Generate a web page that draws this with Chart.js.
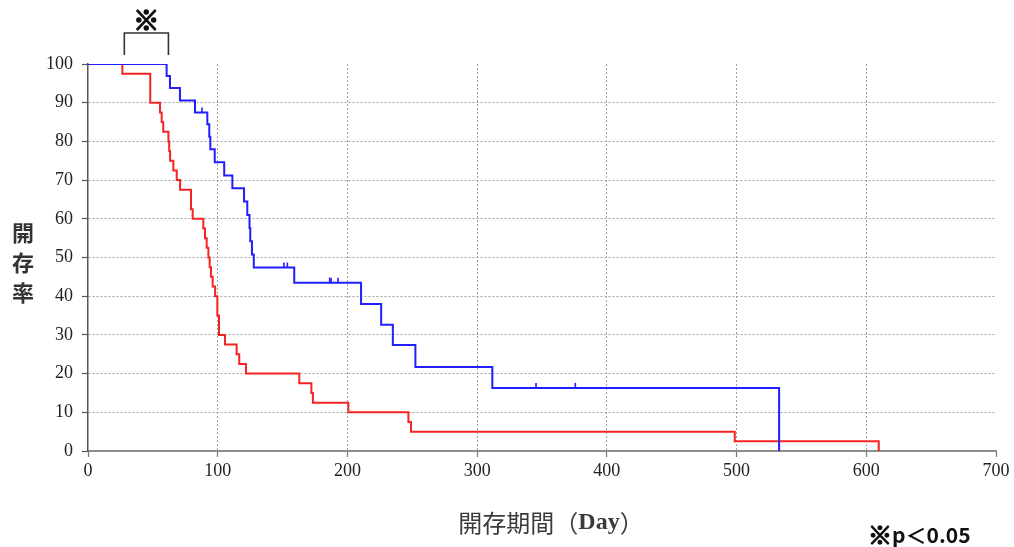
<!DOCTYPE html>
<html>
<head>
<meta charset="utf-8">
<script src="https://cdn.jsdelivr.net/npm/chart.js@4.4.0/dist/chart.umd.min.js"></script>
<style>
  html, body { margin: 0; padding: 0; background: #ffffff; }
  #wrap { position: relative; width: 1014px; height: 547px; }
</style>
</head>
<body>
<div id="wrap"><canvas id="chart"></canvas></div>
<script>
// Patency curve, group A (blue): day of each event and the rate after it
const blueDays = [0, 60.6, 63.2, 70.9, 82.5, 92.0, 93.5, 94.3, 97.7, 105.0, 111.3, 120.3, 122.8, 124.5, 125.1, 126.4, 127.8, 159.0, 210.5, 226.0, 235.0, 252.4, 311.7, 532.8];
const blueRate = [100, 96.9, 93.8, 90.6, 87.5, 84.4, 81.2, 78.0, 74.6, 71.2, 67.9, 64.5, 61.0, 57.6, 54.2, 50.8, 47.4, 43.5, 38.0, 32.6, 27.4, 21.7, 16.3, 0];
// Censored cases on the blue curve
const blueCensorDays = [87.9, 151.0, 153.7, 186.3, 187.4, 192.8, 345.4, 375.7];
const blueCensorRate = [87.5, 47.4, 47.4, 43.5, 43.5, 43.5, 16.3, 16.3];

// Patency curve, group B (red)
const redDays = [0, 26.5, 48.0, 55.5, 56.8, 58.0, 62.0, 62.6, 63.3, 65.8, 68.4, 71.0, 79.4, 80.7, 88.9, 90.2, 91.5, 92.8, 93.8, 94.8, 96.1, 98.0, 99.7, 101.0, 105.6, 114.6, 116.6, 121.8, 162.9, 172.2, 173.4, 200.7, 247.0, 249.0, 498.6, 609.6];
const redRate = [100, 97.5, 90, 87.5, 85, 82.5, 80, 77.5, 75, 72.5, 70, 67.5, 62.5, 60, 57.5, 55, 52.5, 50, 47.5, 45, 42.5, 40, 35, 30, 27.5, 25, 22.5, 20, 17.5, 15, 12.5, 10, 7.5, 5, 2.5, 0];

// Axis ticks
const xTicks = [0, 100, 200, 300, 400, 500, 600, 700];
const yTicks = [0, 10, 20, 30, 40, 50, 60, 70, 80, 90, 100];

// Texts
const yTitleChars = ['開', '存', '率'];
const xTitleParts = ['開存期間（', 'Day', '）'];
const sigMark = '※';
const pNoteParts = ['※', 'p＜0.05'];
// Days spanned by the significance bracket
const bracketDays = [28, 62];

const BLUE = '#1f1fff';
const RED = '#f42424';
const GRID = '#a0a0a0';

const toPoints = (xs, ys) => xs.map((x, i) => ({ x: x, y: ys[i] }));

// Short upward ticks marking censored cases
const censorPlugin = {
  id: 'censorTicks',
  afterDatasetsDraw(chart) {
    const { ctx, scales: { x, y } } = chart;
    ctx.save();
    ctx.strokeStyle = BLUE;
    ctx.lineWidth = 1.6;
    blueCensorDays.forEach((d, i) => {
      const px = x.getPixelForValue(d);
      const py = y.getPixelForValue(blueCensorRate[i]);
      ctx.beginPath();
      ctx.moveTo(px, py);
      ctx.lineTo(px, py - 5);
      ctx.stroke();
    });
    ctx.restore();
  }
};

// Heavy text: fill plus a thin outline in the same colour
function heavyText(ctx, text, x, y, w) {
  ctx.lineWidth = w;
  ctx.lineJoin = 'round';
  ctx.strokeText(text, x, y);
  ctx.fillText(text, x, y);
}

// Axis titles, significance bracket and footnote
const textPlugin = {
  id: 'annotations',
  afterDraw(chart) {
    const { ctx, scales: { x, y }, chartArea } = chart;
    ctx.save();

    // vertical y-axis title, one character per line
    ctx.fillStyle = '#333333';
    ctx.font = 'bold 22px "Noto Sans CJK JP"';
    ctx.textAlign = 'center';
    ctx.textBaseline = 'middle';
    yTitleChars.forEach((ch, i) => ctx.fillText(ch, 23, 233 + i * 30));

    // x-axis title with a bold Latin part
    const fonts = ['24px "Noto Sans CJK JP"', 'bold 24px "Liberation Serif"', '24px "Noto Sans CJK JP"'];
    let total = 0;
    const widths = xTitleParts.map((t, i) => { ctx.font = fonts[i]; const w = ctx.measureText(t).width; total += w; return w; });
    let cx = (chartArea.left + chartArea.right) / 2 + 9 - total / 2;
    ctx.textAlign = 'left';
    ctx.fillStyle = '#3a3a3a';
    xTitleParts.forEach((t, i) => { ctx.font = fonts[i]; ctx.fillText(t, cx, 523); cx += widths[i]; });

    // significance bracket over the first events
    const bx0 = x.getPixelForValue(bracketDays[0]);
    const bx1 = x.getPixelForValue(bracketDays[1]);
    ctx.strokeStyle = '#333333';
    ctx.lineWidth = 1.6;
    ctx.beginPath();
    ctx.moveTo(bx0, 55);
    ctx.lineTo(bx0, 33);
    ctx.lineTo(bx1, 33);
    ctx.lineTo(bx1, 55);
    ctx.stroke();
    ctx.fillStyle = '#111111';
    ctx.strokeStyle = '#111111';
    ctx.font = 'bold 26px "Noto Sans CJK JP"';
    ctx.textAlign = 'center';
    heavyText(ctx, sigMark, (bx0 + bx1) / 2, 20, 1.6);

    // footnote
    ctx.textAlign = 'left';
    ctx.font = 'bold 24px "Noto Sans CJK JP"';
    heavyText(ctx, pNoteParts[0], 868, 535, 1.4);
    const mw = ctx.measureText(pNoteParts[0]).width;
    ctx.font = 'bold 21px "Noto Sans CJK JP"';
    ctx.fillText(pNoteParts[1], 868 + mw, 535);

    ctx.restore();
  }
};

new Chart(document.getElementById('chart'), {
  type: 'line',
  data: {
    datasets: [
      {
        label: 'blue',
        data: toPoints(blueDays, blueRate),
        borderColor: BLUE,
        borderWidth: 2,
        stepped: 'before',
        pointRadius: 0,
        fill: false
      },
      {
        label: 'red',
        data: toPoints(redDays, redRate),
        borderColor: RED,
        borderWidth: 2,
        stepped: 'before',
        pointRadius: 0,
        fill: false
      }
    ]
  },
  options: {
    responsive: true,
    maintainAspectRatio: false,
    animation: false,
    events: [],
    layout: { padding: { left: 0, top: 64, right: 18, bottom: 0 } },
    plugins: { legend: { display: false }, tooltip: { enabled: false } },
    scales: {
      x: {
        type: 'linear',
        min: xTicks[0],
        max: xTicks[xTicks.length - 1],
        afterBuildTicks: (s) => { s.ticks = xTicks.map(v => ({ value: v })); },
        afterFit: (s) => { s.height = 96; },
        ticks: {
          font: { family: '"Liberation Serif"', size: 18 },
          color: '#222222',
          padding: 3,
          maxRotation: 0
        },
        grid: {
          color: (c) => (c.tick && (c.tick.value === 0 || c.tick.value === 700)) ? 'rgba(0,0,0,0)' : GRID,
          lineWidth: 1,
          tickColor: '#777777',
          tickLength: 6,
          tickWidth: 1.2,
          tickBorderDash: []
        },
        border: { display: true, color: '#8c8c8c', width: 2, dash: [2, 2] }
      },
      y: {
        type: 'linear',
        min: yTicks[0],
        max: yTicks[yTicks.length - 1],
        afterBuildTicks: (s) => { s.ticks = yTicks.map(v => ({ value: v })); },
        afterFit: (s) => { s.width = 88; },
        ticks: {
          font: { family: '"Liberation Serif"', size: 18 },
          color: '#222222',
          padding: 9
        },
        grid: {
          color: (c) => (c.tick && (c.tick.value === 0 || c.tick.value === 100)) ? 'rgba(0,0,0,0)' : GRID,
          lineWidth: 1,
          tickColor: '#555555',
          tickLength: 6,
          tickWidth: 1.2,
          tickBorderDash: []
        },
        border: { display: true, color: '#555555', width: 1.5, dash: [2, 2] }
      }
    }
  },
  plugins: [censorPlugin, textPlugin]
});
</script>
</body>
</html>
